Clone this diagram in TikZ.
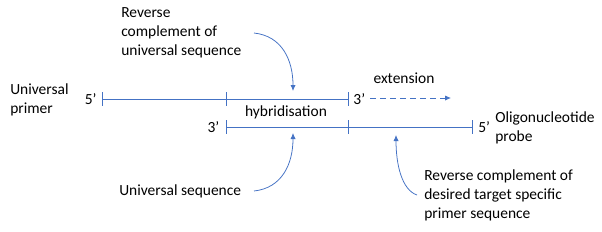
\documentclass[tikz,border=0pt]{standalone}
\usepackage{fontspec}
\setmainfont{Carlito}
\usetikzlibrary{arrows.meta,positioning}
\definecolor{strandblue}{RGB}{68,114,196}

\begin{document}
\begin{tikzpicture}[
  x=0.025cm, y=-0.025cm,
  font=\fontsize{11}{13.5}\selectfont,
  strand/.style={draw=strandblue, line width=0.65pt},
  tickmark/.style={draw=strandblue, line width=0.65pt},
  primelbl/.style={inner sep=0pt},
  txt/.style={align=left, inner sep=0pt, anchor=west},
  ptr/.style={-{Latex[length=1.5mm,width=1.3mm]}, strandblue, line width=0.55pt}
]
\useasboundingbox (0,0) rectangle (602,231);
% strands
\coordinate (t5) at (102,99);
\coordinate (tm) at (226,99);
\coordinate (t3) at (348,99);
\coordinate (b3) at (226,127);
\coordinate (bm) at (348,127);
\coordinate (b5) at (472,127);
\draw[strand] (t5) -- (t3);
\draw[strand] (b3) -- (b5);
\foreach \c in {t5,tm,t3,b3,bm,b5}
  \draw[tickmark] (\c) ++(0,-7) -- ++(0,14);
% ends
\node[primelbl, left=1.3mm of t5]  (t5l) {5’};
\node[primelbl, right=1.3mm of t3] (t3l) {3’};
\node[primelbl, left=1.6mm of b3]  (b3l) {3’};
\node[primelbl, right=1.5mm of b5] (b5l) {5’};
% labels
\node[txt] (uprimer) at (10,100) {Universal\\primer};
\node[txt] (oprobe) at (495,128) {Oligonucleotide\\probe};
\node[txt] (rcuniv) at (121,33) {Reverse\\complement of\\universal sequence};
\node[txt] (univ) at (119,191) {Universal sequence};
\node[txt] (rctarget) at (424,195) {Reverse complement of\\desired target specific\\primer sequence};
\node[inner sep=0pt] (ext) at (404,78) {extension};
\node[inner sep=0pt] (hyb) at (286,112) {hybridisation};
% extension arrow
\coordinate (ext0) at (370,98);
\coordinate (ext1) at (451,98);
\draw[ptr, dashed, dash pattern=on 1.5mm off 1mm] (ext0) -- (ext1);
% pointers
\coordinate (p1) at (254,33);
\coordinate (q1) at (293,91);
\coordinate (p2) at (254,191);
\coordinate (q2) at (293,133);
\coordinate (p3) at (417,195);
\coordinate (q3) at (396,135);
\draw[ptr] (p1) .. controls (282,36) and (293,60) .. (q1);
\draw[ptr] (p2) .. controls (282,188) and (293,164) .. (q2);
\draw[ptr] (p3) .. controls (402,190) and (396,165) .. (q3);
\end{tikzpicture}
\end{document}
